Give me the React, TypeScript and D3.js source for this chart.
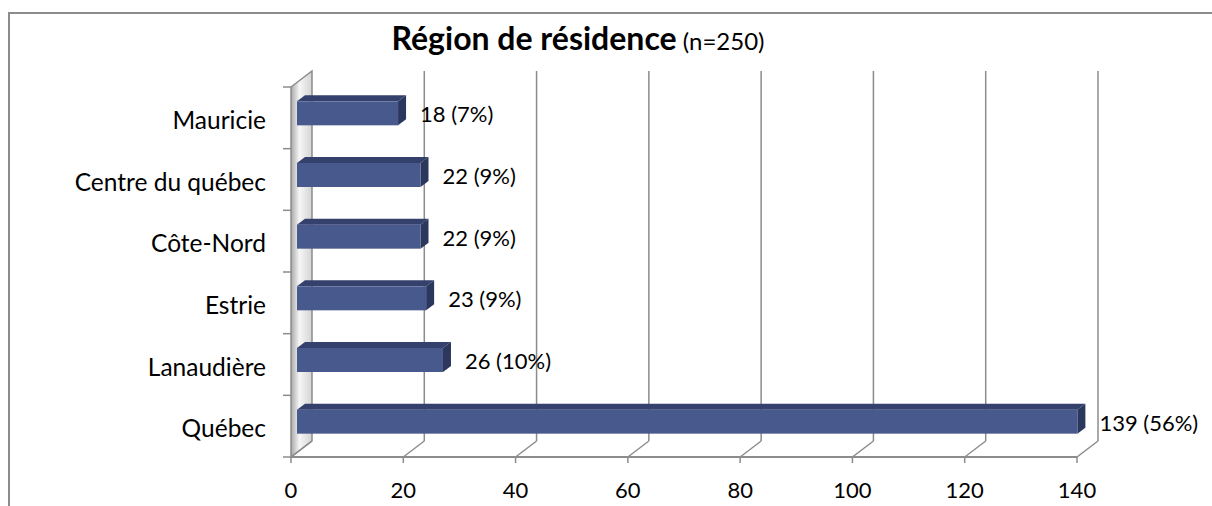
import React, { useEffect, useRef } from "react";
import * as d3 from "d3";

// categories top to bottom
const regions = ["Mauricie", "Centre du québec", "Côte-Nord", "Estrie", "Lanaudière", "Québec"];
const counts = [18, 22, 22, 23, 26, 139];
const percents = ["7%", "9%", "9%", "9%", "10%", "56%"];
const xTicks = [0, 20, 40, 60, 80, 100, 120, 140];

const W = 1212;
const H = 506;
const FONT = "Lato, 'Open Sans', sans-serif";

export default function App() {
    const ref = useRef<SVGSVGElement>(null);

    useEffect(() => {
        const svg = d3.select(ref.current);
        svg.selectAll("*").remove();

        // 3d depth of the plot box
        const dx = 21, dy = -16;
        const x = d3.scaleLinear().domain([0, 140]).range([291, 1077]);
        const y = d3.scaleBand().domain(regions).range([87, 457]).padding(0);

        const defs = svg.append("defs");
        const grad = defs.append("linearGradient").attr("id", "wall").attr("x1", "0").attr("x2", "1");
        grad.append("stop").attr("offset", "0").attr("stop-color", "#a8a8a8");
        grad.append("stop").attr("offset", "0.4").attr("stop-color", "#f6f6f6");
        grad.append("stop").attr("offset", "1").attr("stop-color", "#d4d4d4");

        // outer frame (right and bottom are cut off)
        svg.append("path")
            .attr("d", `M9,${H} L9,13 L${W},13`)
            .attr("fill", "none").attr("stroke", "#8c8c8c").attr("stroke-width", 2);

        const y0 = y.range()[0], y1 = y.range()[1];

        // left wall
        svg.append("path")
            .attr("d", `M${x(0)},${y0} L${x(0) + dx},${y0 + dy} L${x(0) + dx},${y1 + dy} L${x(0)},${y1} Z`)
            .attr("fill", "url(#wall)").attr("stroke", "#8c8c8c").attr("stroke-width", 1.5);

        // gridlines on the back plane
        svg.append("g").selectAll("line").data(xTicks.slice(1)).enter().append("line")
            .attr("x1", d => x(d) + dx).attr("x2", d => x(d) + dx)
            .attr("y1", y0 + dy).attr("y2", y1 + dy)
            .attr("stroke", "#8c8c8c").attr("stroke-width", 1.5);

        // floor diagonals
        svg.append("g").selectAll("line").data(xTicks).enter().append("line")
            .attr("x1", d => x(d)).attr("x2", d => x(d) + dx)
            .attr("y1", y1).attr("y2", y1 + dy)
            .attr("stroke", "#8c8c8c").attr("stroke-width", 1.5);

        // front x axis line and ticks
        svg.append("line").attr("x1", x(0)).attr("x2", x(140)).attr("y1", y1).attr("y2", y1)
            .attr("stroke", "#8c8c8c").attr("stroke-width", 2);
        svg.append("g").selectAll("line").data(xTicks).enter().append("line")
            .attr("x1", d => x(d)).attr("x2", d => x(d))
            .attr("y1", y1).attr("y2", y1 + 6)
            .attr("stroke", "#8c8c8c").attr("stroke-width", 1.5);

        // y ticks at category boundaries
        const bounds = regions.map(r => y(r) as number).concat([y1]);
        svg.append("g").selectAll("line").data(bounds).enter().append("line")
            .attr("x1", x(0) - 8).attr("x2", x(0))
            .attr("y1", d => d).attr("y2", d => d)
            .attr("stroke", "#8c8c8c").attr("stroke-width", 1.5);

        // x tick labels
        svg.append("g").selectAll("text").data(xTicks).enter().append("text")
            .attr("x", d => x(d)).attr("y", 498)
            .attr("text-anchor", "middle").attr("font-family", FONT).attr("font-size", 22)
            .attr("fill", "#000").text(d => d);

        // category labels
        svg.append("g").selectAll("text").data(regions).enter().append("text")
            .attr("x", 266).attr("y", d => (y(d) as number) + y.bandwidth() / 2 + 11)
            .attr("text-anchor", "end").attr("font-family", FONT).attr("font-size", 24.5)
            .attr("fill", "#000").text(d => d);

        // bars (3d boxes)
        const sx = 6, sy = -4.5;      // bar offset into depth
        const bdx = 8, bdy = -6;      // bar thickness
        const bh = 24;
        const bars = svg.append("g").selectAll("g").data(regions).enter().append("g");
        const bx0 = x(0) + sx;
        const bx1 = (i: number) => x(counts[i]) + sx;
        const by = (d: string) => (y(d) as number) + y.bandwidth() / 2 + sy - bh / 2;

        bars.append("path")
            .attr("d", (d, i) => `M${bx0},${by(d)} L${bx0 + bdx},${by(d) + bdy} L${bx1(i) + bdx},${by(d) + bdy} L${bx1(i)},${by(d)} Z`)
            .attr("fill", "#34416d");
        bars.append("path")
            .attr("d", (d, i) => `M${bx1(i)},${by(d)} L${bx1(i) + bdx},${by(d) + bdy} L${bx1(i) + bdx},${by(d) + bh + bdy} L${bx1(i)},${by(d) + bh} Z`)
            .attr("fill", "#2b375c");
        bars.append("rect")
            .attr("x", bx0).attr("y", d => by(d))
            .attr("width", (d, i) => bx1(i) - bx0).attr("height", bh)
            .attr("fill", "#48598d");

        // value labels
        bars.append("text")
            .attr("x", (d, i) => bx1(i) + bdx + 14)
            .attr("y", d => by(d) + bh / 2 + 9)
            .attr("font-family", FONT).attr("font-size", 22).attr("fill", "#000")
            .text((d, i) => `${counts[i]} (${percents[i]})`);

        // title
        const title = svg.append("text").attr("x", 578).attr("y", 50)
            .attr("text-anchor", "middle").attr("font-family", FONT).attr("fill", "#000");
        title.append("tspan").attr("font-weight", "bold").attr("font-size", 32).text("Région de résidence");
        title.append("tspan").attr("font-size", 24).text(" (n=250)");
    }, []);

    return (
        <svg ref={ref} width={W} height={H}
            style={{ position: "absolute", left: 0, top: 0, background: "#fff" }} />
    );
}
